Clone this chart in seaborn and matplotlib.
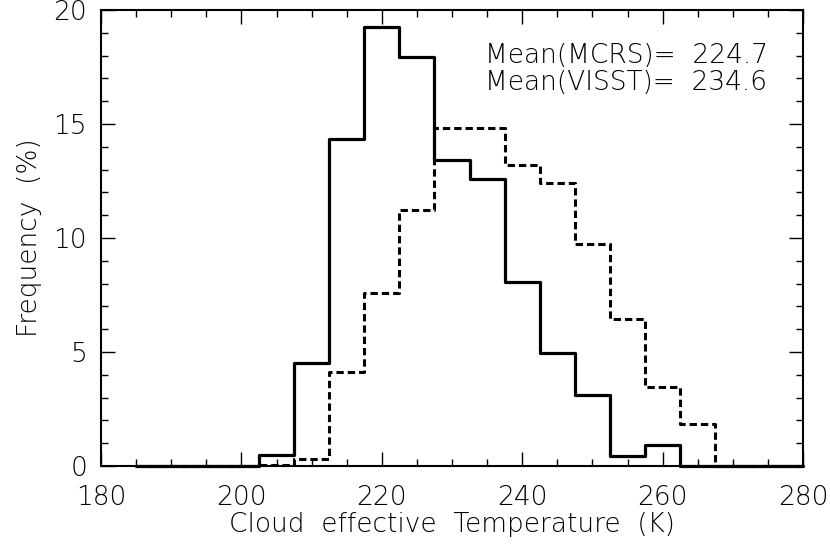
import numpy as np
import pandas as pd
import seaborn as sns
import matplotlib.pyplot as plt
from matplotlib.ticker import MultipleLocator

# bin centres (K) and frequencies (%)
temp = list(range(185, 285, 5))
freq_mcrs = [0, 0, 0, 0, 0.47, 4.5, 14.33, 19.27, 17.95, 13.44, 12.57,
             8.08, 4.94, 3.12, 0.46, 0.91, 0, 0, 0, 0]
freq_visst = [0, 0, 0, 0, 0.05, 0.32, 4.14, 7.58, 11.22, 14.84, 14.84,
              13.2, 12.39, 9.74, 6.44, 3.48, 1.83, 0, 0, 0]
mean_mcrs = 224.7
mean_visst = 234.6

df = pd.DataFrame({"T": temp, "MCRS": freq_mcrs, "VISST": freq_visst})

sns.set_theme(style="ticks")
plt.rcParams["font.family"] = ["DejaVu Sans"]
plt.rcParams["font.weight"] = "light"
plt.rcParams["axes.labelweight"] = "light"
plt.rcParams["text.color"] = "black"
plt.rcParams["axes.labelcolor"] = "black"
plt.rcParams["xtick.color"] = "black"
plt.rcParams["ytick.color"] = "black"

fig = plt.figure(figsize=(8.3, 5.48), dpi=100)
ax = fig.add_axes([0.1217, 0.1496, 0.8458, 0.8322])

sns.lineplot(data=df, x="T", y="MCRS", ax=ax, color="black", lw=2.3,
             drawstyle="steps-mid", clip_on=False)
sns.lineplot(data=df, x="T", y="VISST", ax=ax, color="black", lw=2.2,
             drawstyle="steps-mid", linestyle=(0, (2.4, 1.3)), clip_on=False)

ax.set_xlim(180, 280)
ax.set_ylim(0, 20)
ax.xaxis.set_major_locator(MultipleLocator(20))
ax.xaxis.set_minor_locator(MultipleLocator(5))
ax.yaxis.set_major_locator(MultipleLocator(5))
ax.yaxis.set_minor_locator(MultipleLocator(1))
ax.tick_params(which="both", direction="in", top=True, right=True,
               labelsize=19, width=1.0, color="black")
ax.tick_params(axis="x", pad=14)
ax.tick_params(axis="y", pad=10)
ax.tick_params(which="major", length=10)
ax.tick_params(which="minor", length=5)
for s in ax.spines.values():
    s.set_linewidth(1.5)
    s.set_color("black")

ax.set_xlabel("Cloud  effective  Temperature  (K)", fontsize=19, labelpad=1)
ax.set_ylabel("Frequency  (%)", fontsize=19, labelpad=8)

ax.text(0.547, 0.928, f"Mean(MCRS)=  {mean_mcrs}\nMean(VISST)=  {mean_visst}",
        transform=ax.transAxes, fontsize=19, va="top", ha="left",
        linespacing=1.1)

fig.savefig("out.png", dpi=100)
